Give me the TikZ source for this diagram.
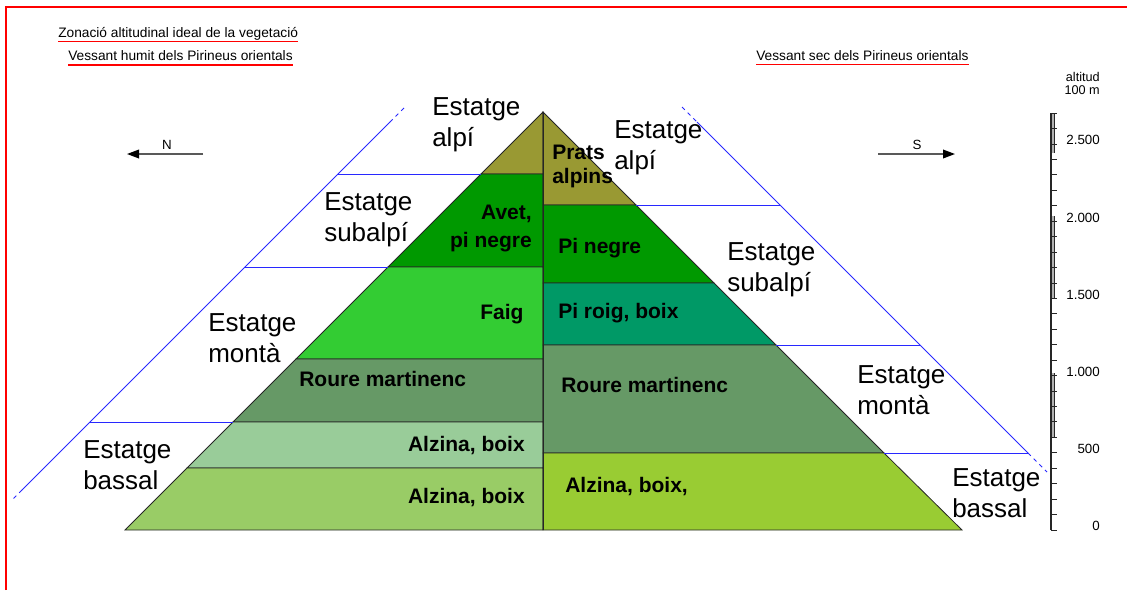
\documentclass[tikz,border=0pt]{standalone}
\usepackage{fontspec}
\setmainfont{Liberation Sans}
\usetikzlibrary{arrows.meta}
\usetikzlibrary{calc}

\definecolor{olive}{HTML}{999933}
\definecolor{darkgreen}{HTML}{009900}
\definecolor{brightgreen}{HTML}{33CC33}
\definecolor{oakgreen}{HTML}{669966}
\definecolor{palegreen}{HTML}{99CC99}
\definecolor{lowgreen}{HTML}{99CC66}
\definecolor{pinegreen}{HTML}{009966}
\definecolor{drygreen}{HTML}{99CC33}
\definecolor{limitblue}{HTML}{2828FF}

\begin{document}
\begin{tikzpicture}[x=0.75pt, y=-0.75pt,
            layer/.style={draw=black!85, line width=0.6pt},
            limit/.style={draw=limitblue, line width=0.75pt},
            stage/.style={font=\fontsize{19.5}{23.25}\selectfont, align=left, anchor=north west, inner sep=0pt},
            zone/.style={font=\fontsize{15.75}{20.5}\bfseries\selectfont, inner sep=0pt},
            title/.style={font=\fontsize{10.3}{12}\selectfont, anchor=base west, inner sep=0pt},
            scalelabel/.style={font=\fontsize{10}{12}\selectfont, anchor=base east, inner sep=0pt},
            compass/.style={draw=black!65, line width=1.1pt, -{Triangle[length=9pt, width=6.5pt, color=black]}}
        ]
            \useasboundingbox (0,0) rectangle (1127,590);
            
            % frame
            \draw[red, line width=0.8pt] (6,590) -- (6,7) -- (1127,7);
            
            % titles
            \node[title] (title) at (58,37.5) {Zonació altitudinal ideal de la vegetació};
            \node[title] (humid) at (68,60) {Vessant humit dels Pirineus orientals};
            \node[title] (dry) at (756,60) {Vessant sec dels Pirineus orientals};
            \draw[red, line width=1.1pt] ($(title.base west)+(0,4)$) -- ($(title.base east)+(0,4)$);
            \draw[red, line width=1.1pt] ($(humid.base west)+(0,5)$) -- ($(humid.base east)+(0,5)$);
            \draw[red, line width=1.1pt] ($(dry.base west)+(0,4.5)$) -- ($(dry.base east)+(0,4.5)$);
            
            % compass
            \coordinate (nfrom) at (203,154);
            \coordinate (nto) at (127,154);
            \coordinate (sfrom) at (878,154);
            \coordinate (sto) at (955,154);
            \draw[compass] (nfrom) -- (nto);
            \draw[compass] (sfrom) -- (sto);
            \node[scalelabel, anchor=base] (north) at (167,149) {N};
            \node[scalelabel, anchor=base] (south) at (917,149) {S};
            
            % humid side
            \filldraw[layer, fill=olive] (543,112) -- (481,174) -- (543,174) -- cycle;
            \filldraw[layer, fill=darkgreen] (481,174) -- (388,267) -- (543,267) -- (543,174) -- cycle;
            \filldraw[layer, fill=brightgreen] (388,267) -- (296,359) -- (543,359) -- (543,267) -- cycle;
            \filldraw[layer, fill=oakgreen] (296,359) -- (233,422) -- (543,422) -- (543,359) -- cycle;
            \filldraw[layer, fill=palegreen] (233,422) -- (187,468) -- (543,468) -- (543,422) -- cycle;
            \filldraw[layer, fill=lowgreen] (187,468) -- (125,530) -- (543,530) -- (543,468) -- cycle;
            
            % dry side
            \filldraw[layer, fill=olive] (543,112) -- (636,205) -- (543,205) -- cycle;
            \filldraw[layer, fill=darkgreen] (636,205) -- (714,283) -- (543,283) -- (543,205) -- cycle;
            \filldraw[layer, fill=pinegreen] (714,283) -- (776,345) -- (543,345) -- (543,283) -- cycle;
            \filldraw[layer, fill=oakgreen] (776,345) -- (884,453) -- (543,453) -- (543,345) -- cycle;
            \filldraw[layer, fill=drygreen] (884,453) -- (962,530) -- (543,530) -- (543,453) -- cycle;
            \draw[layer] (543,112) -- (543,530);
            
            % stage limits
            \draw[limit, dashed] (404,108) -- (390,122);
            \draw[limit] (390,122) -- (22,490);
            \draw[limit, dashed] (22,490) -- (13,499);
            \draw[limit] (337.5,174) -- (481,174);
            \draw[limit] (244.5,267) -- (388,267);
            \draw[limit] (89.5,422) -- (233,422);
            
            \draw[limit, dashed] (682,107) -- (697,122);
            \draw[limit] (697,122) -- (1028,453);
            \draw[limit, dashed] (1028,453) -- (1047,472);
            \draw[limit] (636,205) -- (780,205);
            \draw[limit] (776,345) -- (920,345);
            \draw[limit] (884,453) -- (1028,453);
            
            % stages
            \node[stage] (alpiN) at (432,97) {Estatge\\alpí};
            \node[stage] (alpiS) at (614,120) {Estatge\\alpí};
            \node[stage] (subalpiN) at (324,192) {Estatge\\subalpí};
            \node[stage] (subalpiS) at (727,242) {Estatge\\subalpí};
            \node[stage] (montaN) at (208,313) {Estatge\\montà};
            \node[stage] (montaS) at (857,365) {Estatge\\montà};
            \node[stage] (bassalN) at (83,440) {Estatge\\bassal};
            \node[stage] (bassalS) at (952,468) {Estatge\\bassal};
            
            % vegetation
            \node[zone, align=left, anchor=north west, font=\fontsize{15.75}{17.5}\bfseries\selectfont] (prats) at (552,145) {Prats\\alpins};
            \node[zone, align=right, anchor=north east] (avet) at (532,205) {Avet,\\pi negre};
            \node[zone, anchor=base west] (faig) at (480,319) {Faig};
            \node[zone, anchor=base west] (roureN) at (299,386) {Roure martinenc};
            \node[zone, anchor=base east] (alzinaN) at (525,451) {Alzina, boix};
            \node[zone, anchor=base east] (alzinaB) at (525,503) {Alzina, boix};
            \node[zone, anchor=base west] (pinegre) at (558,253) {Pi negre};
            \node[zone, anchor=base west] (piroig) at (558,318) {Pi roig, boix};
            \node[zone, anchor=base west] (roureS) at (561,392) {Roure martinenc};
            \node[zone, anchor=base west] (alzinaS) at (565,492) {Alzina, boix,};
            
            % altitude scale
            \fill[gray!60] (1051,113) rectangle (1054.5,153);
            \fill[gray!60] (1051,216) rectangle (1054.5,298);
            \fill[gray!60] (1051,373) rectangle (1054.5,438);
            \draw[black!85, line width=0.7pt] (1054.5,113) -- (1054.5,153);
            \draw[black!85, line width=0.7pt] (1054.5,216) -- (1054.5,298);
            \draw[black!85, line width=0.7pt] (1054.5,373) -- (1054.5,438);
            \draw[black!85, line width=0.8pt] (1051,113) -- (1051,530);
            \foreach \k in {0,...,27}
                \draw[black!85, line width=0.7pt] (1051,530-15.44*\k) -- (1057,530-15.44*\k);
            
            \node[scalelabel, align=right, anchor=north east, font=\fontsize{9.5}{9.75}\selectfont] (unit) at (1100,72.5) {altitud\\100 m};
            \node[scalelabel] (h2500) at (1100,144) {2.500};
            \node[scalelabel] (h2000) at (1100,222) {2.000};
            \node[scalelabel] (h1500) at (1100,299) {1.500};
            \node[scalelabel] (h1000) at (1100,376) {1.000};
            \node[scalelabel] (h500) at (1100,453) {500};
            \node[scalelabel] (h0) at (1100,530) {0};
        \end{tikzpicture}
\end{document}
